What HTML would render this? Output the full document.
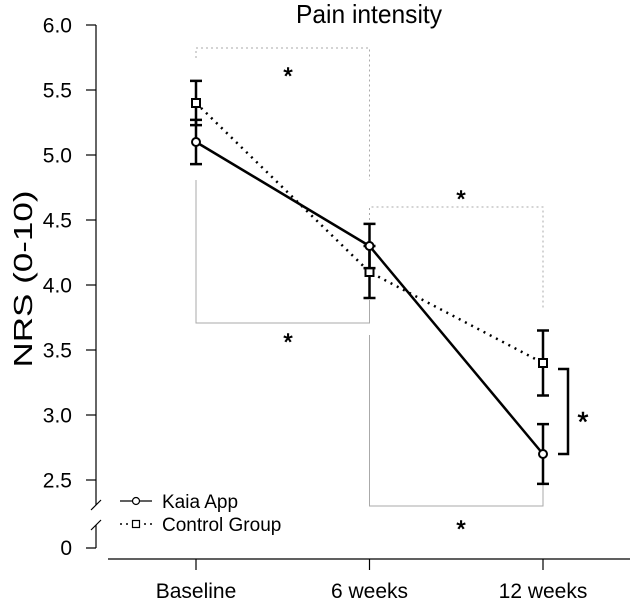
<!DOCTYPE html>
<html><head><meta charset="utf-8"><style>
body{margin:0;background:#fff}
svg{display:block;font-family:"Liberation Sans",sans-serif}
</style></head><body>
<svg id="chart" width="630" height="601" viewBox="0 0 630 601" xmlns="http://www.w3.org/2000/svg">
<text x="369" y="23" font-size="26" text-anchor="middle" textLength="146" lengthAdjust="spacingAndGlyphs">Pain intensity</text>
<text transform="translate(32,279) rotate(-90)" font-size="26" text-anchor="middle" textLength="177" lengthAdjust="spacingAndGlyphs">NRS (0-10)</text>
<g id="axes"></g>
<g id="brackets" fill="none" stroke="#aaa" stroke-width="1"></g>
<g id="series"></g>
<g font-size="19">
<line x1="120" y1="501" x2="152" y2="501" stroke="#000" stroke-width="1.2"/>
<circle cx="136" cy="501" r="3.5" fill="#fff" stroke="#000" stroke-width="1.2"/>
<text x="162" y="508">Kaia App</text>
<line x1="120" y1="524" x2="152" y2="524" stroke="#000" stroke-width="1.4" stroke-dasharray="2,4"/>
<rect x="132.5" y="520.5" width="7" height="7" fill="#fff" stroke="#000" stroke-width="1.2"/>
<text x="162" y="531">Control Group</text>
</g>
</svg>
<script>
const categories=["Baseline","6 weeks","12 weeks"];
const kaiaMean=[5.1,4.3,2.7];
const kaiaErr=[0.17,0.17,0.23];
const controlMean=[5.4,4.1,3.4];
const controlErr=[0.17,0.2,0.25];
const yTicks=[2.5,3.0,3.5,4.0,4.5,5.0,5.5,6.0];
const NS="http://www.w3.org/2000/svg";
const xS=i=>196+i*173.5;
const yS=v=>480-(v-2.5)*130;
function mk(tag,attrs,parent,txt){const e=document.createElementNS(NS,tag);for(const k in attrs)e.setAttribute(k,attrs[k]);if(txt!=null)e.textContent=txt;parent.appendChild(e);return e;}
const axes=document.getElementById('axes');
let a=mk('path',{d:"M96,"+yS(6)+"V505 M96,525V548 M86,548H96",fill:"none",stroke:"#000","stroke-width":1.2},axes);

mk('path',{d:"M91,510L101,500 M91,530L101,520",stroke:"#000","stroke-width":1.2},axes);
let z=mk('text',{x:72,y:555,"font-size":21,"text-anchor":"end"},axes,"0");

yTicks.forEach(v=>{mk('line',{x1:86,x2:96,y1:yS(v),y2:yS(v),stroke:"#000","stroke-width":1.2},axes);
 const t=mk('text',{x:72,y:yS(v)+7.5,"font-size":21,"text-anchor":"end"},axes,v.toFixed(1));
 });
let xa=mk('line',{x1:108,x2:630,y1:559,y2:559,stroke:"#000","stroke-width":1.2},axes);

categories.forEach((c,i)=>{mk('line',{x1:xS(i),x2:xS(i),y1:559,y2:570,stroke:"#000","stroke-width":1.2},axes);
 const t=mk('text',{x:xS(i),y:598,"font-size":21,"text-anchor":"middle"},axes,c);
 });
const br=document.getElementById('brackets');
const dot={"stroke-dasharray":"2,3"};
function b(d,attrs,name){const p=mk('path',Object.assign({d},attrs||{}),br);}
b(`M${xS(0)},58V48H${xS(1)}V180`,dot,'significance-bracket-control-1');
b(`M${xS(1)},230V207H${xS(2)}V310`,dot,'significance-bracket-control-2');
b(`M${xS(0)},180V323H${xS(1)}V300`,{},'significance-bracket-kaia-1');
b(`M${xS(1)},335V506H${xS(2)}V480`,{},'significance-bracket-kaia-2');
const bb=mk('path',{d:"M558,369H568V454H558",fill:"none",stroke:"#000","stroke-width":2.5},br);

[[288,84,24],[461,207,24],[288,350,24],[461,537,24],[583,431,28]].forEach(([x,y,f])=>{const s=mk('text',{x,y,"font-size":f,"text-anchor":"middle",fill:"#000",stroke:"#000","stroke-width":0.6},br,"*");
 });
const sg=document.getElementById('series');
function series(means,errs,dash,name,square){
 const l=mk('polyline',{points:means.map((v,i)=>xS(i)+","+yS(v)).join(" "),fill:"none",stroke:"#000","stroke-width":2.5,"stroke-dasharray":dash},sg);
 
 means.forEach((v,i)=>{const x=xS(i),t=yS(v+errs[i]),bo=yS(v-errs[i]);
  const e=mk('path',{d:`M${x},${t}V${bo}M${x-6},${t}H${x+6}M${x-6},${bo}H${x+6}`,stroke:"#000","stroke-width":2.5,fill:"none"},sg);
  
  let m=square?mk('rect',{x:x-4,y:yS(v)-4,width:8,height:8,fill:"#fff",stroke:"#000","stroke-width":2},sg)
   :mk('circle',{cx:x,cy:yS(v),r:4,fill:"#fff",stroke:"#000","stroke-width":2},sg);
  });
}
series(controlMean,controlErr,"2,5","control-group",true);
series(kaiaMean,kaiaErr,"none","kaia-app",false);
</script>
</body></html>
